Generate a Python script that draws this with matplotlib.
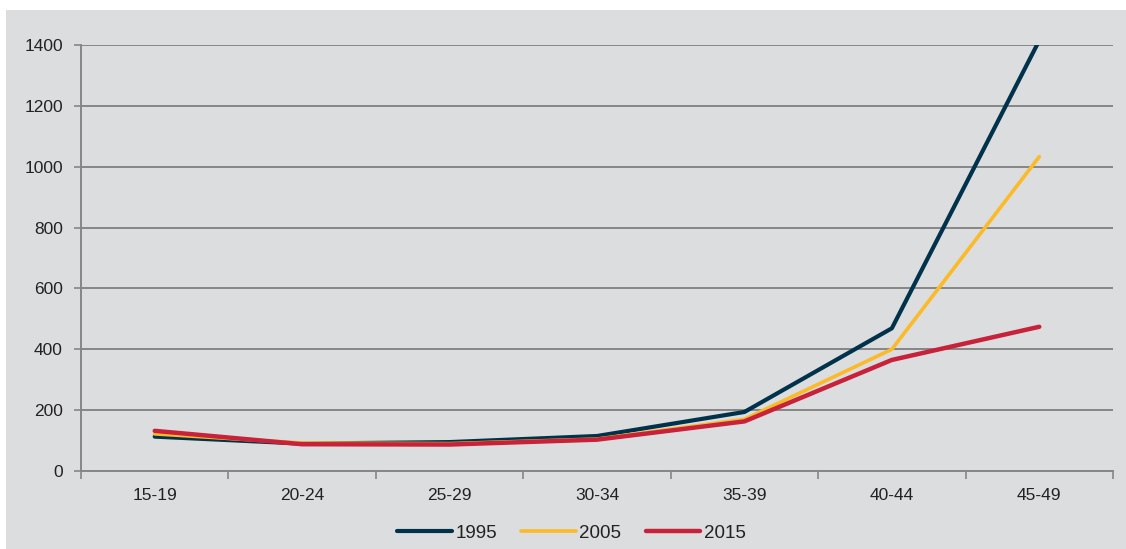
import matplotlib.pyplot as plt
from matplotlib.patches import Rectangle

plt.rcParams['font.family'] = ['Liberation Sans', 'DejaVu Sans']

# age groups and rates
age_groups = ['15-19', '20-24', '25-29', '30-34', '35-39', '40-44', '45-49']
rate_1995 = [113, 90, 95, 115, 194, 469, 1415]
rate_2005 = [122, 92, 90, 105, 170, 400, 1033]
rate_2015 = [132, 88, 87, 103, 163, 365, 474]
y_ticks = [0, 200, 400, 600, 800, 1000, 1200, 1400]

bg = '#dcdddf'
grid_c = '#868686'

fig = plt.figure(figsize=(11.26, 5.49), dpi=100, facecolor='white')
# gray panel with white margin on top and left
fig.patches.append(Rectangle((6 / 1126, 0), 1, 1 - 10 / 549, transform=fig.transFigure,
                             facecolor=bg, edgecolor='none', zorder=-10))

ax = fig.add_axes([81 / 1126, 1 - 471 / 549, (1113 - 81) / 1126, (471 - 45) / 549])
ax.set_facecolor(bg)

x = list(range(len(age_groups)))
ax.plot(x, rate_1995, color='#00334b', lw=3.0, label='1995', solid_capstyle='round', zorder=3)
ax.plot(x, rate_2005, color='#fbba27', lw=2.6, label='2005', solid_capstyle='round', zorder=4)
ax.plot(x, rate_2015, color='#c8213a', lw=3.2, label='2015', solid_capstyle='round', zorder=5)

ax.set_xlim(-0.5, len(age_groups) - 0.5)
ax.set_ylim(0, 1400)
ax.set_yticks(y_ticks)
ax.set_yticklabels([str(v) for v in y_ticks], fontsize=12.5, color='#222222')
ax.set_xticks(x)
ax.set_xticklabels(age_groups, fontsize=12.5, color='#222222')
ax.tick_params(axis='x', length=0, pad=12)
ax.set_xticks([i - 0.5 for i in range(len(age_groups) + 1)], minor=True)
ax.tick_params(axis='x', which='minor', length=6, color=grid_c, width=1.2)
ax.tick_params(axis='y', length=5, color=grid_c, width=1.2, pad=8)

ax.grid(axis='y', color=grid_c, lw=1.4)
ax.set_axisbelow(True)
for s in ['top', 'right']:
    ax.spines[s].set_visible(False)
for s in ['left', 'bottom']:
    ax.spines[s].set_color(grid_c)
    ax.spines[s].set_linewidth(1.4)

leg = fig.legend(loc='center', bbox_to_anchor=(0.5075, 0.029), ncol=3, frameon=False,
                 fontsize=13.5, handlelength=2.9, handletextpad=0.2, columnspacing=1.3)
for t in leg.get_texts():
    t.set_color('#222222')

fig.savefig('out.png', dpi=100, facecolor='white')
